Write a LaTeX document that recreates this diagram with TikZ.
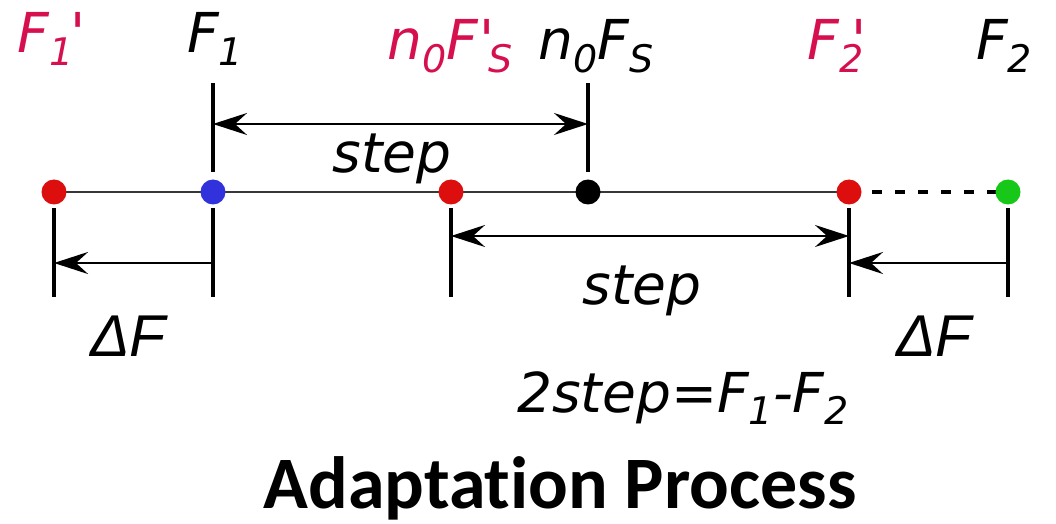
\documentclass[tikz,border=0pt]{standalone}
\usepackage{fontspec}
\setmainfont{DejaVu Sans}
\newfontfamily\deltafont{Liberation Sans}
\newfontfamily\titlefont[Ligatures=NoCommon]{Carlito}
\usetikzlibrary{arrows.meta}
\definecolor{primered}{RGB}{214,16,78}
\definecolor{dotred}{RGB}{220,14,14}
\definecolor{dotblue}{RGB}{50,50,220}
\definecolor{dotgreen}{RGB}{24,200,24}
\definecolor{axisgray}{RGB}{55,55,55}
\newcommand\lowsub[1]{\raisebox{-0.22em}{\fontsize{19}{19}\selectfont #1}}
\newcommand\primemark{\textquotesingle}

\begin{document}
\begin{tikzpicture}
  [x=0.5pt,y=-0.5pt,
    every node/.style={font=\fontsize{27.5}{30}\selectfont\itshape},
    dot/.style={circle,fill=#1,inner sep=0pt,minimum size=12.5pt},
    tick/.style={line width=2.4pt,shorten <=1.75pt},
    uptick/.style={line width=2.4pt,shorten <=3.75pt},
    dim/.style={line width=1.4pt},
    lbl/.style={anchor=base},
    >={Stealth[length=17pt,width=11pt,inset=6pt]},
]
  \useasboundingbox (0,0) rectangle (1056,524);
  % frequency axis
  \coordinate (f1p) at (54,192);
  \coordinate (f1) at (213,192);
  \coordinate (nfsp) at (451,192);
  \coordinate (nfs) at (588,192);
  \coordinate (f2p) at (849,192);
  \coordinate (f2) at (1008,192);
  \draw[axisgray,line width=1.4pt] (f1p) -- (f2p);
  \draw[line width=2pt,dash pattern=on 5pt off 6.5pt] (f2p) -- (f2);
  \node[dot=dotred] (df1p) at (f1p) {};
  \node[dot=dotblue] (df1) at (f1) {};
  \node[dot=dotred] (dnfsp) at (nfsp) {};
  \node[dot=black] (dnfs) at (nfs) {};
  \node[dot=dotred] (df2p) at (f2p) {};
  \node[dot=dotgreen] (df2) at (f2) {};
  % ticks
  \coordinate (uf1) at (213,83);
  \coordinate (unfs) at (588,83);
  \coordinate (bf1p) at (54,297);
  \coordinate (bf1) at (213,297);
  \coordinate (bnfsp) at (451,297);
  \coordinate (bf2p) at (849,297);
  \coordinate (bf2) at (1008,297);
  \draw[uptick] (df1) -- (uf1);
  \draw[uptick] (dnfs) -- (unfs);
  \draw[tick] (df1p) -- (bf1p);
  \draw[tick] (df1) -- (bf1);
  \draw[tick] (dnfsp) -- (bnfsp);
  \draw[tick] (df2p) -- (bf2p);
  \draw[tick] (df2) -- (bf2);
  % arrows
  \coordinate (sa) at (213,124);
  \coordinate (sb) at (588,124);
  \coordinate (sc) at (451,236);
  \coordinate (sd) at (849,236);
  \coordinate (da) at (213,263);
  \coordinate (db) at (54,263);
  \coordinate (dc) at (1008,263);
  \coordinate (dd) at (849,263);
  \draw[dim,<->] (sa) -- (sb);
  \draw[dim,<->] (sc) -- (sd);
  \draw[dim,->] (da) -- (db);
  \draw[dim,->] (dc) -- (dd);
  % labels
  \node[lbl,primered] (lf1p) at (52,53) {F\lowsub{1}\kern-0.05em\primemark};
  \node[lbl] (lf1) at (215,53) {F\lowsub{1}};
  \node[lbl,primered] (lnfsp) at (450,60) {n\lowsub{0}F\kern0.02em\primemark\kern-0.12em\lowsub{S}};
  \node[lbl] (lnfs) at (596,60) {n\lowsub{0}F\lowsub{S}};
  \node[lbl,primered] (lf2p) at (837,60) {F\lowsub{2}\kern-0.22em\primemark};
  \node[lbl] (lf2) at (1004,60) {F\lowsub{2}};
  \node[lbl] (lstepa) at (392,173) {step};
  \node[lbl] (lstepb) at (642,305) {step};
  \node[lbl,font=\fontsize{29.5}{32}\selectfont\deltafont\itshape] (ldfa) at (128,357) {ΔF};
  \node[lbl,font=\fontsize{29.5}{32}\selectfont\deltafont\itshape] (ldfb) at (934,357) {ΔF};
  \node[lbl] (lsum) at (683,412) {2step=F\lowsub{1}-F\lowsub{2}};
  \node[lbl,font=\fontsize{37}{40}\selectfont\titlefont\bfseries] (ltitle) at (560,508) {Adaptation Process};
\end{tikzpicture}
\end{document}
